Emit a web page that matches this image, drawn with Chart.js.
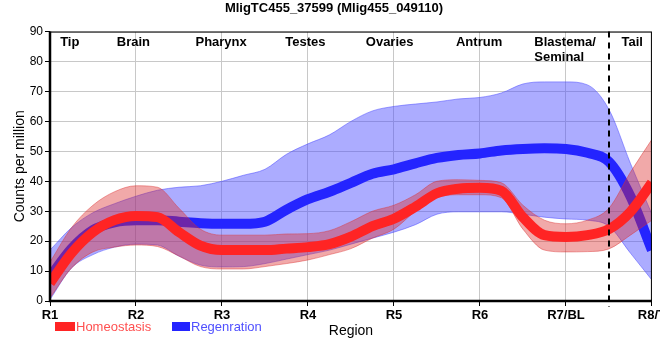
<!DOCTYPE html>
<html>
<head>
<meta charset="utf-8">
<script src="https://cdn.jsdelivr.net/npm/chart.js@4.4.1/dist/chart.umd.min.js"></script>
<style>
html, body { margin: 0; padding: 0; overflow: hidden; background: #fff; width: 660px; height: 360px; }
#wrap { width: 668px; height: 360px; }
</style>
</head>
<body>
<div id="wrap"><canvas id="myChart" width="668" height="360"></canvas></div>
<script>
const tickLabels = ['R1', 'R2', 'R3', 'R4', 'R5', 'R6', 'R7/BL', 'R8/T'];
const xs = [1, 1.25, 1.5, 1.75, 2, 2.25, 2.5, 2.75, 3, 3.25, 3.5, 3.75, 4, 4.25, 4.5, 4.75,
            5, 5.25, 5.5, 5.75, 6, 6.25, 6.5, 6.75, 7, 7.25, 7.5, 7.75, 8];

const homeoMean = [6, 16, 23, 27, 28.4, 28, 23, 18.5, 17, 17, 17, 17.5, 18, 19, 21.5, 25,
                   27.5, 31.5, 36, 37.5, 37.8, 36.8, 28, 22, 21.4, 22, 24, 29.8, 39.5];
const homeoHigh = [13, 24.5, 32, 36.5, 38.5, 38, 31, 24, 22, 22, 22, 22.4, 22.5, 23.5, 26.5, 30,
                   32, 35.5, 40, 40.5, 40.3, 39.5, 32, 27, 25.8, 27, 31, 43, 54];
const homeoLow  = [1, 11, 16.4, 18, 18.7, 18.2, 15, 11.5, 10.7, 10.7, 11.5, 12.5, 13.7, 15.5, 17.5, 21,
                   24, 30, 34.5, 35.5, 35.5, 34.5, 24, 17, 16.4, 16.5, 17.4, 22, 27];

const regenMean = [8, 17.5, 23.7, 26.3, 27, 27, 26.5, 26, 25.8, 25.8, 26.5, 30.5, 34, 36.5, 39.5, 42.5,
                   44, 46, 47.8, 48.8, 49.3, 50.3, 50.8, 51, 50.8, 49.5, 46.5, 35, 17];
const regenHigh = [17, 24.5, 29.5, 32.5, 35, 37, 38, 38.5, 40, 42, 44, 49, 52.5, 55.5, 60, 63.5,
                   65, 65.8, 66.5, 67.5, 68, 69.5, 72.5, 73.2, 73.2, 72.2, 64, 46, 29];
const regenLow  = [0.5, 11, 15.5, 18, 19, 18.7, 15, 12, 11.4, 11.5, 12.5, 14, 15.5, 17, 19, 21,
                   23, 25.5, 29, 29.8, 29.8, 29.8, 29, 28, 27.4, 27, 25, 16, 7];

const regionNames = [['Tip'], ['Brain'], ['Pharynx'], ['Testes'], ['Ovaries'], ['Antrum'], ['Blastema/', 'Seminal'], ['Tail']];
const regionAt = [1.23, 1.97, 2.99, 3.97, 4.95, 5.99, 6.99, 7.77];
const tailBoundary = 7.5;

const narrow = '"Liberation Sans Narrow", "Arial Narrow", "Liberation Sans", sans-serif';
Chart.defaults.font.family = '"Liberation Sans", Arial, sans-serif';
Chart.defaults.color = '#000';

function pts(ys) {
    return xs.map((x, i) => ({ x: x, y: ys[i] }));
}

const overlay = {
    id: 'overlay',
    afterDatasetsDraw(chart) {
        const { ctx, chartArea: a, scales: { x } } = chart;
        ctx.save();
        // plot box
        ctx.strokeStyle = '#000';
        ctx.lineWidth = 1;
        ctx.strokeRect(a.left + 0.5, a.top + 0.5, a.right - a.left - 1, a.bottom - a.top);
        ctx.lineWidth = 2.5;
        ctx.beginPath();
        ctx.moveTo(a.left, a.top);
        ctx.lineTo(a.left, a.bottom);
        ctx.lineTo(a.right, a.bottom);
        ctx.stroke();
        // tail boundary
        const dx = Math.round(x.getPixelForValue(tailBoundary));
        ctx.lineWidth = 2;
        ctx.setLineDash([6, 5]);
        ctx.beginPath();
        ctx.moveTo(dx, a.top);
        ctx.lineTo(dx, a.bottom + 6);
        ctx.stroke();
        ctx.setLineDash([]);
        // region names
        ctx.fillStyle = '#000';
        ctx.font = 'bold 13px ' + narrow;
        ctx.textBaseline = 'middle';
        regionNames.forEach((lines, i) => {
            const cx = x.getPixelForValue(regionAt[i]);
            const w = Math.max(...lines.map(l => ctx.measureText(l).width));
            ctx.textAlign = 'left';
            lines.forEach((l, j) => ctx.fillText(l, cx - w / 2, a.top + 11 + j * 15));
        });
        ctx.restore();
    },
    afterDraw(chart) {
        const { ctx, chartArea: a } = chart;
        ctx.save();
        ctx.textBaseline = 'middle';
        ctx.font = '13px ' + narrow;
        const items = [
            { ds: chart.data.datasets[0], x: 55, w: 20, color: '#ff5050' },
            { ds: chart.data.datasets[3], x: 172, w: 18, color: '#5050ff' }
        ];
        items.forEach(it => {
            ctx.fillStyle = it.ds.borderColor;
            ctx.fillRect(it.x, 322, it.w, 9);
            ctx.fillStyle = it.color;
            ctx.textAlign = 'left';
            ctx.fillText(it.ds.label, it.x + it.w + 1, 327);
        });
        ctx.fillStyle = '#000';
        ctx.textAlign = 'center';
        ctx.font = '14px ' + narrow;
        ctx.fillText('Region', (a.left + a.right) / 2, 331);
        ctx.restore();
    }
};

const ctx = document.getElementById('myChart').getContext('2d');
const myChart = new Chart(ctx, {
    type: 'line',
    data: {
        datasets: [
            { label: 'Homeostasis', data: pts(homeoMean), borderColor: '#ff2424', borderWidth: 10, fill: false },
            { label: 'hi', data: pts(homeoHigh), borderColor: 'rgba(220,50,50,0.45)', borderWidth: 1,
              backgroundColor: 'rgba(220,40,40,0.4)', fill: '+1' },
            { label: 'lo', data: pts(homeoLow), borderColor: 'rgba(220,50,50,0.45)', borderWidth: 1, fill: false },
            { label: 'Regenration', data: pts(regenMean), borderColor: '#2424ff', borderWidth: 10, fill: false },
            { label: 'hi', data: pts(regenHigh), borderColor: 'rgba(70,70,255,0.5)', borderWidth: 1,
              backgroundColor: 'rgba(70,70,255,0.45)', fill: '+1' },
            { label: 'lo', data: pts(regenLow), borderColor: 'rgba(70,70,255,0.5)', borderWidth: 1, fill: false }
        ]
    },
    options: {
        responsive: false,
        animation: false,
        events: [],
        layout: { padding: { left: 0, right: 0, top: 0, bottom: 37 } },
        elements: {
            point: { radius: 0 },
            line: { cubicInterpolationMode: 'monotone', borderCapStyle: 'butt' }
        },
        datasets: { line: { clip: 0 } },
        scales: {
            x: {
                type: 'linear',
                min: 1,
                max: 8,
                afterFit: s => { s.height = 22; },
                ticks: {
                    stepSize: 1,
                    padding: 2,
                    font: { size: 13, weight: 'bold', family: narrow },
                    callback: v => tickLabels[v - 1]
                },
                grid: { color: '#c8c8c8', tickColor: '#000', tickLength: 5 },
                border: { display: false }
            },
            y: {
                min: 0,
                max: 90,
                afterFit: s => { s.width = 50; },
                ticks: { stepSize: 10, padding: 2, font: { size: 12 } },
                grid: { color: '#c8c8c8', tickColor: '#000', tickLength: 5 },
                border: { display: false },
                title: { display: true, text: 'Counts per million', font: { size: 14 }, padding: { top: 12, bottom: 0 } }
            }
        },
        plugins: {
            legend: { display: false },
            tooltip: { enabled: false },
            title: {
                display: true,
                text: 'MligTC455_37599 (Mlig455_049110)',
                font: { size: 13, weight: 'bold', family: narrow },
                padding: { top: 1, bottom: 15 }
            }
        }
    },
    plugins: [overlay]
});
</script>
</body>
</html>
